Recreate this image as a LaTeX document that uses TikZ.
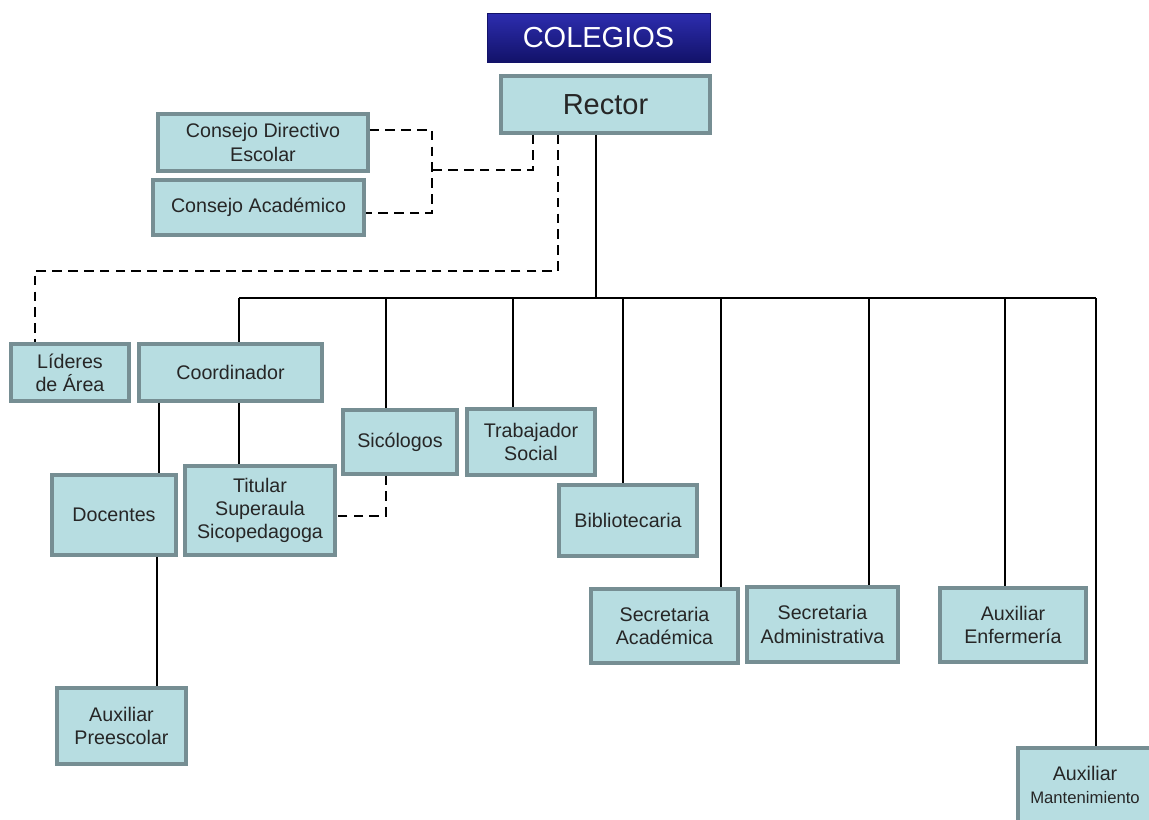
\documentclass[tikz,border=0pt]{standalone}
\usepackage{fontspec}
\setmainfont{Liberation Sans}
\definecolor{boxfill}{RGB}{183,221,225}
\definecolor{boxline}{RGB}{118,142,147}
\definecolor{navytop}{RGB}{45,45,175}
\definecolor{navybot}{RGB}{18,18,105}
\tikzset{
  orgbox/.style={draw=boxline, fill=boxfill, line width=1.8pt, align=center,
    inner sep=0pt, text=black!85, font=\fontsize{11.2}{13.2}\selectfont},
  titlebox/.style={top color=navytop, bottom color=navybot, draw=navybot,
    inner sep=0pt, text=white, font=\fontsize{16.5}{19}\selectfont},
  link/.style={line width=0.9pt},
  dashlink/.style={line width=1.1pt, dash pattern=on 5.5pt off 3.5pt}
}
\begin{document}
\begin{tikzpicture}[x=0.02cm, y=-0.02cm]
  \useasboundingbox (0,0) rectangle (1149,819);
  % boxes
  \node[titlebox, minimum width=4.46cm, minimum height=0.98cm] (colegios) at (598.5,37.5) {COLEGIOS};
  \node[orgbox, minimum width=4.18cm, minimum height=1.14cm, font=\fontsize{16.5}{19}\selectfont] (rector) at (605.5,104.5) {Rector};
  \node[orgbox, minimum width=4.2cm, minimum height=1.14cm] (cde) at (263,142.5) {Consejo Directivo\\Escolar};
  \node[orgbox, minimum width=4.22cm, minimum height=1.1cm] (cac) at (258.5,207.5) {Consejo Académico};
  \node[orgbox, minimum width=2.36cm, minimum height=1.14cm] (lideres) at (70,372.5) {Líderes\\de Área};
  \node[orgbox, minimum width=3.66cm, minimum height=1.14cm] (coord) at (230.5,372.5) {Coordinador};
  \node[orgbox, minimum width=2.28cm, minimum height=1.28cm] (sico) at (400,442) {Sicólogos};
  \node[orgbox, minimum width=2.56cm, minimum height=1.32cm] (trab) at (531,442) {Trabajador\\Social};
  \node[orgbox, minimum width=2.48cm, minimum height=1.6cm] (doc) at (114,515) {Docentes};
  \node[orgbox, minimum width=3.0cm, minimum height=1.78cm] (titular) at (260,510.5) {Titular\\Superaula\\Sicopedagoga};
  \node[orgbox, minimum width=2.76cm, minimum height=1.42cm] (biblio) at (628,520.5) {Bibliotecaria};
  \node[orgbox, minimum width=2.94cm, minimum height=1.48cm] (secac) at (664.5,626) {Secretaria\\Académica};
  \node[orgbox, minimum width=3.02cm, minimum height=1.5cm] (secadm) at (822.5,624.5) {Secretaria\\Administrativa};
  \node[orgbox, minimum width=2.92cm, minimum height=1.48cm] (auxenf) at (1013,625) {Auxiliar\\Enfermería};
  \node[orgbox, minimum width=2.58cm, minimum height=1.52cm] (auxpre) at (121.5,726) {Auxiliar\\Preescolar};
  \node[orgbox, minimum width=2.68cm, minimum height=1.48cm] (auxman) at (1085,785) {Auxiliar\\{\fontsize{9.5}{11}\selectfont Mantenimiento}};

  % solid lines
  \coordinate (busL) at (239,298);
  \coordinate (busR) at (1096,298);
  \draw[link] (busL) -- (busR);
  \draw[link] (rector.south -| 596,0) -- (596,298);
  \foreach \n/\x in {coord/239, sico/386, trab/513, biblio/623, secac/721, secadm/869, auxenf/1005, auxman/1096}
    \draw[link] (\x,298) -- (\n.north -| \x,0);
  \draw[link] (coord.south -| 159,0) -- (doc.north -| 159,0);
  \draw[link] (coord.south -| 239,0) -- (titular.north -| 239,0);
  \draw[link] (doc.south -| 157,0) -- (auxpre.north -| 157,0);

  % dashed lines
  \draw[dashlink] (rector.south -| 533,0) -- (533,170) -- (432,170);
  \draw[dashlink] (cde.east |- 0,130) -- (432,130) -- (432,213) -- (cac.east |- 0,213);
  \draw[dashlink] (rector.south -| 558,0) -- (558,271) -- (35,271) -- (lideres.north -| 35,0);
  \draw[dashlink] (sico.south -| 386,0) -- (386,516) -- (titular.east |- 0,516);
\end{tikzpicture}
\end{document}
